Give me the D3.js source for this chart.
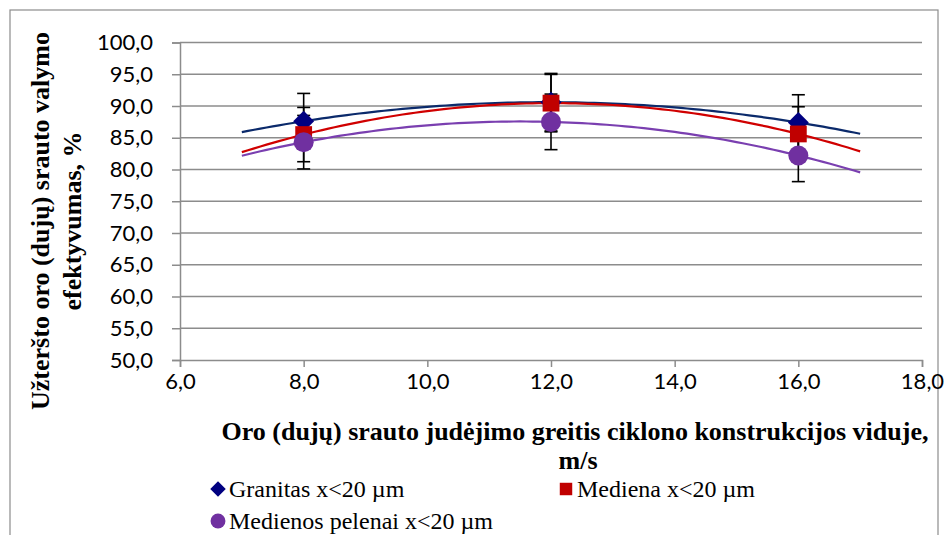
<!DOCTYPE html>
<html>
<head>
<meta charset="utf-8">
<script src="https://cdn.jsdelivr.net/npm/d3@7"></script>
<style>
  body { margin: 0; background: #fff; }
</style>
</head>
<body>
<svg width="944" height="535"></svg>
<script>
const svg = d3.select('svg');

// data
const speeds = [8, 12, 16];
const granitas = [87.6, 90.6, 87.4];
const mediena = [85.5, 90.45, 85.6];
const pelenai = [84.3, 87.5, 82.2];
const errPct = 0.05;  // error bars look like 5 % of value
const xTicks = [6, 8, 10, 12, 14, 16, 18];
const yTicks = [50, 55, 60, 65, 70, 75, 80, 85, 90, 95, 100];
const trendFrom = 7, trendTo = 17;

const serif = '"Liberation Serif", "DejaVu Serif", serif';
const tickFont = 'Lato, "Open Sans", sans-serif';

const series = [
  {name: 'Granitas x<20 µm', values: granitas, line: '#0b2a6b', fill: '#000080', shape: 'diamond'},
  {name: 'Mediena x<20 µm', values: mediena, line: '#d00000', fill: '#c00000', shape: 'square'},
  {name: 'Medienos pelenai x<20 µm', values: pelenai, line: '#7a3fb0', fill: '#7030a0', shape: 'circle'}
];

const x = d3.scaleLinear().domain([6, 18]).range([180, 922]);
const y = d3.scaleLinear().domain([50, 100]).range([360, 42.5]);

// chart border
svg.append('rect').attr('x', 10).attr('y', 10).attr('width', 928).attr('height', 540)
  .attr('fill', 'none').attr('stroke', '#8c8c8c').attr('stroke-width', 1.2);

// gridlines
svg.append('g').selectAll('line').data(yTicks.slice(1)).enter().append('line')
  .attr('x1', x(6)).attr('x2', x(18)).attr('y1', d => y(d)).attr('y2', d => y(d))
  .attr('stroke', '#8c8c8c').attr('stroke-width', 1.5);

const fmt = d => d.toFixed(1).replace('.', ',');

const yAxis = svg.append('g').attr('transform', `translate(${x(6)},0)`)
  .call(d3.axisLeft(y).tickValues(yTicks).tickFormat(fmt).tickSize(8).tickPadding(19));
const xAxis = svg.append('g').attr('transform', `translate(0,${y(50)})`)
  .call(d3.axisBottom(x).tickValues(xTicks).tickFormat(fmt).tickSize(7).tickPadding(6));
[xAxis, yAxis].forEach(a => {
  a.attr('font-family', null).attr('font-size', null);
  a.select('.domain').attr('stroke', '#8c8c8c').attr('stroke-width', 1.5);
  a.selectAll('.tick line').attr('stroke', '#8c8c8c').attr('stroke-width', 1.5);
  a.selectAll('.tick text').style('font-family', tickFont).style('font-size', '22px').attr('fill', '#000');
});

// quadratic trend through the 3 points (Excel polynomial order 2)
function quadFit(xs, ys) {
  const [x0, x1, x2] = xs, [y0, y1, y2] = ys;
  return t => y0 * (t - x1) * (t - x2) / ((x0 - x1) * (x0 - x2))
            + y1 * (t - x0) * (t - x2) / ((x1 - x0) * (x1 - x2))
            + y2 * (t - x0) * (t - x1) / ((x2 - x0) * (x2 - x1));
}
const line = d3.line().x(d => x(d[0])).y(d => y(d[1]));
series.forEach(s => {
  const f = quadFit(speeds, s.values);
  const pts = d3.range(trendFrom, trendTo + 0.001, 0.1).map(t => [t, f(t)]);
  svg.append('path').attr('d', line(pts)).attr('fill', 'none')
    .attr('stroke', s.line).attr('stroke-width', 2.2);
});

// error bars
series.forEach(s => {
  const g = svg.append('g').attr('stroke', '#000').attr('stroke-width', 1.6);
  s.values.forEach((v, i) => {
    const cx = x(speeds[i]), lo = y(v * (1 - errPct)), hi = y(v * (1 + errPct));
    g.append('line').attr('x1', cx).attr('x2', cx).attr('y1', lo).attr('y2', hi);
    g.append('line').attr('x1', cx - 6.5).attr('x2', cx + 6.5).attr('y1', lo).attr('y2', lo);
    g.append('line').attr('x1', cx - 6.5).attr('x2', cx + 6.5).attr('y1', hi).attr('y2', hi);
  });
});

function marker(g, s, cx, cy, scale) {
  const type = s.shape === 'diamond' ? d3.symbolDiamond2 : s.shape === 'square' ? d3.symbolSquare2 : d3.symbolCircle;
  const size = s.shape === 'diamond' ? 280 : s.shape === 'square' ? 360 : 315;
  g.append('path').attr('d', d3.symbol().type(type).size(size * scale)())
    .attr('transform', `translate(${cx},${cy})`)
    .attr('fill', s.fill).attr('stroke', 'none');
}
series.forEach(s => {
  const g = svg.append('g');
  s.values.forEach((v, i) => marker(g, s, x(speeds[i]), y(v), 1));
});

// axis titles
function title(t) {
  return t.style('font-family', serif).style('font-weight', 'bold').style('font-size', '26px')
    .attr('fill', '#000');
}
title(svg.append('text').attr('x', 575).attr('y', 440).attr('text-anchor', 'middle'))
  .text('Oro (dujų) srauto judėjimo greitis ciklono konstrukcijos viduje,');
title(svg.append('text').attr('x', 578).attr('y', 469).attr('text-anchor', 'middle'))
  .text('m/s');
const yt = svg.append('g').attr('transform', 'translate(49,221) rotate(-90)');
title(yt.append('text').attr('x', 0).attr('y', 0).attr('text-anchor', 'middle'))
  .text('Užteršto oro (dujų) srauto valymo');
title(yt.append('text').attr('x', 0).attr('y', 32).attr('text-anchor', 'middle'))
  .text('efektyvumas, %');

// legend
const legPos = [[218, 489], [566, 489], [218, 521]];
series.forEach((s, i) => {
  const [lx, ly] = legPos[i];
  const g = svg.append('g');
  marker(g, s, lx, ly, 0.55);
  g.append('text').attr('x', lx + 11).attr('y', ly + 8)
    .style('font-family', serif).style('font-size', '24px').attr('fill', '#000')
    .text(s.name);
});
</script>
</body>
</html>
